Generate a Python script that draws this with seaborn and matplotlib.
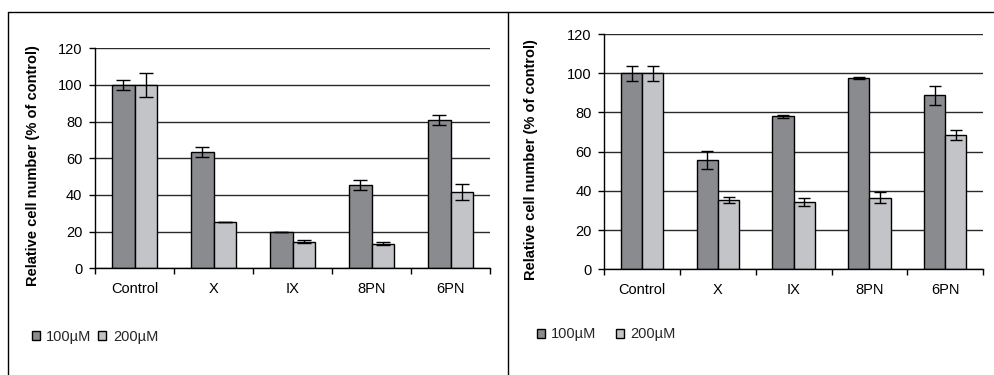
import matplotlib
matplotlib.use("Agg")
import matplotlib.pyplot as plt
from matplotlib.lines import Line2D
from matplotlib.patches import Patch
from matplotlib.ticker import FixedLocator
import seaborn as sns
import pandas as pd

categories = ["Control", "X", "IX", "8PN", "6PN"]
series_names = ["100µM", "200µM"]

left_100 = [100, 63.5, 19.7, 45.4, 80.8]
left_100_err = [2.5, 2.6, 0.0, 2.9, 2.7]
left_200 = [100, 25.1, 14.5, 13.5, 41.5]
left_200_err = [6.5, 0.0, 0.8, 0.7, 4.3]

right_100 = [100, 55.6, 78.0, 97.7, 88.7]
right_100_err = [3.9, 4.6, 0.6, 0.5, 4.9]
right_200 = [100, 35.3, 34.4, 36.6, 68.3]
right_200_err = [3.8, 1.7, 1.9, 2.8, 2.6]

yticks = [0, 20, 40, 60, 80, 100, 120]
ylabel = "Relative cell number (% of control)"

colors = {"100µM": "#898b90", "200µM": "#c3c4c7"}

sns.set_theme(style="white")
plt.rcParams["font.family"] = ["Liberation Sans", "DejaVu Sans"]

W, H = 995, 375
fig = plt.figure(figsize=(W / 100, H / 100), dpi=100)


def px_axes(x0, x1, y_top, y_bot):
    return fig.add_axes([x0 / W, 1 - y_bot / H, (x1 - x0) / W, (y_bot - y_top) / H])


def draw(ax, v100, e100, v200, e200, width, capsize, label_x, label_y):
    df = pd.DataFrame({
        "treatment": categories * 2,
        "conc": [series_names[0]] * len(categories) + [series_names[1]] * len(categories),
        "value": list(v100) + list(v200),
    })
    sns.barplot(data=df, x="treatment", y="value", hue="conc", order=categories,
                hue_order=series_names, palette=colors, edgecolor="black",
                linewidth=1.0, width=width, errorbar=None, legend=False, ax=ax)
    for cont, errs in zip(ax.containers, [e100, e200]):
        xs = [p.get_x() + p.get_width() / 2 for p in cont]
        ys = [p.get_height() for p in cont]
        ax.errorbar(xs, ys, yerr=errs, fmt="none", ecolor="black",
                    elinewidth=1.0, capsize=capsize, capthick=1.0, zorder=5)
    ax.set_ylim(0, 120)
    ax.set_xlim(-0.5, len(categories) - 0.5)
    ax.set_yticks(yticks)
    ax.set_yticklabels([str(t) for t in yticks], fontsize=10.5, color="black")
    ax.set_xticklabels(categories, fontsize=10.5, color="black")
    ax.xaxis.set_minor_locator(FixedLocator([i - 0.5 for i in range(len(categories) + 1)]))
    ax.tick_params(axis="x", which="major", length=0, pad=10)
    ax.tick_params(axis="x", which="minor", length=4, width=1, color="black", direction="out", bottom=True)
    ax.tick_params(axis="y", which="major", length=4.5, width=1, color="black", direction="out", left=True, pad=4.5)
    ax.set_xlabel("")
    ax.set_ylabel(ylabel, fontsize=10.5, fontweight="bold", color="black")
    ax.yaxis.set_label_coords(label_x, label_y)
    ax.grid(axis="y", color="#2a2a2a", linewidth=1.0)
    ax.grid(axis="x", visible=False)
    ax.set_axisbelow(True)
    for s in ["top", "right"]:
        ax.spines[s].set_visible(False)
    for s in ["left", "bottom"]:
        ax.spines[s].set_visible(True)
        ax.spines[s].set_color("black")
        ax.spines[s].set_linewidth(1.0)
    ax.set_facecolor("white")


ax1 = px_axes(95, 490, 48.3, 268.3)
draw(ax1, left_100, left_100_err, left_200, left_200_err, 0.574, 5.0, -0.139, 0.465)

ax2 = px_axes(604.3, 983, 34, 269.3)
draw(ax2, right_100, right_100_err, right_200, right_200_err, 0.56, 4.5, -0.175, 0.466)

handles = [Patch(facecolor=colors[n], edgecolor="black", linewidth=1.0, label=n) for n in series_names]
fig.legend(handles=handles, loc="center left", bbox_to_anchor=(31.7 / W, 1 - 337 / H),
           ncol=2, frameon=False, fontsize=10.5, handlelength=0.55, handleheight=0.55,
           handletextpad=0.45, columnspacing=0.45, borderpad=0, borderaxespad=0)
fig.legend(handles=handles, loc="center left", bbox_to_anchor=(536.7 / W, 1 - 334.3 / H),
           ncol=2, frameon=False, fontsize=10.5, handlelength=0.55, handleheight=0.55,
           handletextpad=0.45, columnspacing=1.3, borderpad=0, borderaxespad=0)

# outer frame lines
fig.add_artist(Line2D([8 / W, 1.0], [1 - 12 / H, 1 - 12 / H], transform=fig.transFigure, color="black", linewidth=1.0))
fig.add_artist(Line2D([8 / W, 8 / W], [0, 1 - 12 / H], transform=fig.transFigure, color="black", linewidth=1.0))
fig.add_artist(Line2D([507.7 / W, 507.7 / W], [0, 1 - 12 / H], transform=fig.transFigure, color="black", linewidth=1.0))

fig.savefig("out.png", dpi=100, facecolor="white")
